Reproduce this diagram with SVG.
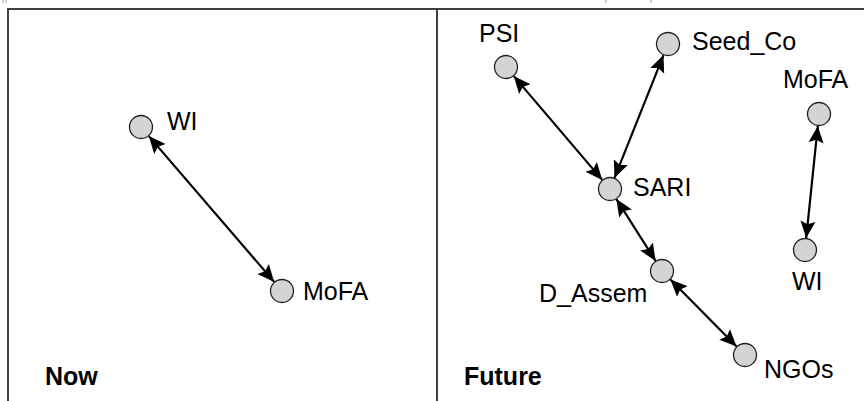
<svg xmlns="http://www.w3.org/2000/svg" width="864" height="401" viewBox="0 0 864 401">
  <style>
    .frame { fill: none; stroke: #404040; stroke-width: 2; }
    .node { fill: #d4d4d4; stroke: #202020; stroke-width: 1.3; }
    .lbl { font-family: "Liberation Sans", Arial, sans-serif; font-size: 25px; fill: #000; }
    .title { font-family: "Liberation Sans", Arial, sans-serif; font-size: 25px; font-weight: bold; fill: #000; }
    .edge { stroke: #000; stroke-width: 2.2; fill: none; marker-start: url(#arr); marker-end: url(#arr); }
    .frag { stroke: #9a9a9a; stroke-width: 1; }
  </style>
  <defs>
    <marker id="arr" markerUnits="userSpaceOnUse" markerWidth="18" markerHeight="16" refX="17" refY="7.5" orient="auto-start-reverse" viewBox="0 0 18 15">
      <path d="M0,0 L17,7.5 L0,15 L3,7.5 z" fill="#000"/>
    </marker>
  </defs>
  <rect width="864" height="401" fill="#fff"/>
  <g id="fragments">
    <line class="frag" x1="3" y1="0" x2="3" y2="3"/>
    <line class="frag" x1="6" y1="0" x2="6" y2="3"/>
    <line class="frag" x1="606" y1="0" x2="606" y2="3"/>
    <line class="frag" x1="651" y1="0" x2="651" y2="3"/>
  </g>
  <g id="frame">
    <path class="frame" d="M8,401 V9 H864"/>
    <line class="frame" x1="437" y1="9" x2="437" y2="401"/>
  </g>
  <g id="connectors">
    <line class="edge" x1="148.8" y1="136.1" x2="274.2" y2="281.9"/>
    <line class="edge" x1="513.8" y1="76.1" x2="602.2" y2="179.9"/>
    <line class="edge" x1="663.5" y1="55.1" x2="614.5" y2="177.9"/>
    <line class="edge" x1="616.4" y1="199.1" x2="655.6" y2="260.9"/>
    <line class="edge" x1="670.4" y1="279.5" x2="736.6" y2="346.5"/>
    <line class="edge" x1="817.8" y1="125.9" x2="806.2" y2="238.1"/>
  </g>
  <g id="now-WI">
    <circle class="node" cx="141" cy="127" r="11.5"/>
    <text class="lbl" x="167" y="130">WI</text>
  </g>
  <g id="now-MoFA">
    <circle class="node" cx="282" cy="291" r="11.5"/>
    <text class="lbl" x="303" y="300">MoFA</text>
  </g>
  <g id="PSI">
    <circle class="node" cx="506" cy="67" r="11.5"/>
    <text class="lbl" x="479" y="42">PSI</text>
  </g>
  <g id="Seed_Co">
    <circle class="node" cx="668" cy="44" r="11.5"/>
    <text class="lbl" x="692" y="50">Seed_Co</text>
  </g>
  <g id="future-MoFA">
    <circle class="node" cx="819" cy="114" r="11.5"/>
    <text class="lbl" x="783" y="88">MoFA</text>
  </g>
  <g id="SARI">
    <circle class="node" cx="610" cy="189" r="11.5"/>
    <text class="lbl" x="633" y="196">SARI</text>
  </g>
  <g id="D_Assem">
    <circle class="node" cx="662" cy="271" r="11.5"/>
    <text class="lbl" x="539" y="302">D_Assem</text>
  </g>
  <g id="NGOs">
    <circle class="node" cx="745" cy="355" r="11.5"/>
    <text class="lbl" x="764" y="378">NGOs</text>
  </g>
  <g id="future-WI">
    <circle class="node" cx="805" cy="250" r="11.5"/>
    <text class="lbl" x="792" y="290">WI</text>
  </g>
  <g id="labels">
    <text class="title" x="45" y="385">Now</text>
    <text class="title" x="464" y="385">Future</text>
  </g>
</svg>
